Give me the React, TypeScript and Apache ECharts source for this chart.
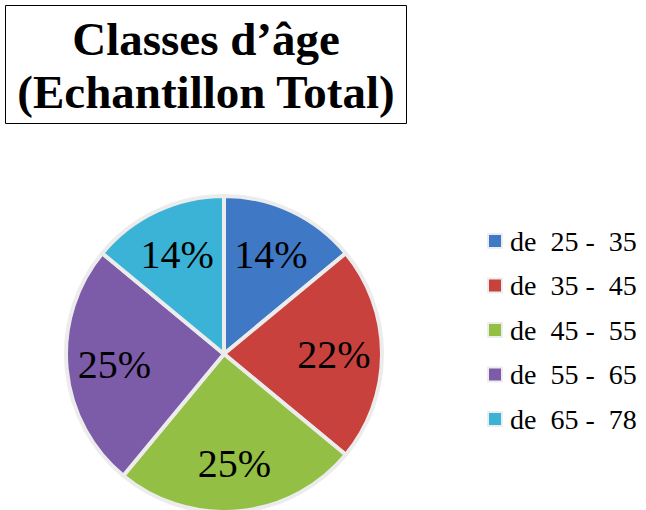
import React, { useEffect, useRef } from "react";
import * as echarts from "echarts";

const titleLines = ["Classes d’âge", "(Echantillon Total)"];
const categories = ["de  25 -  35", "de  35 -  45", "de  45 -  55", "de  55 -  65", "de  65 -  78"];
const values = [14, 22, 25, 25, 14];
const colors = ["#3f78c4", "#c9413c", "#93bf44", "#7c5ba8", "#3ab3d6"];

const SERIF = "'Liberation Serif', 'Times New Roman', serif";

export default function App() {
  const ref = useRef<HTMLDivElement>(null);
  useEffect(() => {
    if (!ref.current) return;
    const chart = echarts.init(ref.current, undefined, { renderer: "svg" });
    const data = categories.map((name, i) => ({
      name,
      value: values[i],
      itemStyle: { color: colors[i] },
    }));
    chart.setOption({
      animation: false,
      backgroundColor: "#ffffff",
      color: colors,
      title: {
        text: titleLines.join("\n"),
        left: 194,
        top: 5,
        textAlign: "center",
        borderColor: "#000000",
        borderWidth: 1,
        padding: [7, 12, 6, 12],
        textStyle: {
          fontFamily: SERIF,
          fontSize: 47,
          fontWeight: "bold",
          color: "#000000",
          lineHeight: 53,
        },
      },
      legend: {
        orient: "vertical",
        left: 482,
        top: 222,
        itemGap: 16.5,
        itemWidth: 14,
        itemHeight: 14,
        icon: "rect",
        data: categories,
        textStyle: {
          fontFamily: SERIF,
          fontSize: 28,
          color: "#000000",
          padding: [0, 0, 0, 3],
        },
        selectedMode: false,
      },
      series: [
        {
          type: "pie",
          center: [224, 354],
          radius: [0, 158],
          startAngle: 90,
          clockwise: true,
          label: { show: false },
          labelLine: { show: false },
          itemStyle: {
            borderColor: "#ececec",
            borderWidth: 4,
          },
          emphasis: { disabled: true },
          data,
        },
        {
          type: "pie",
          center: [224, 354],
          radius: [56, 158],
          startAngle: 90,
          clockwise: true,
          silent: true,
          itemStyle: { color: "transparent", borderWidth: 0 },
          label: {
            show: true,
            position: "inside",
            formatter: "{d}%",
            fontFamily: SERIF,
            fontSize: 40,
            color: "#000000",
          },
          labelLine: { show: false },
          emphasis: { disabled: true },
          data: categories.map((name, i) => ({ name, value: values[i] })),
        },
      ],
    });
    return () => chart.dispose();
  }, []);
  return (
    <div
      ref={ref}
      style={{ position: "absolute", left: 0, top: 0, width: 646, height: 510 }}
    />
  );
}
